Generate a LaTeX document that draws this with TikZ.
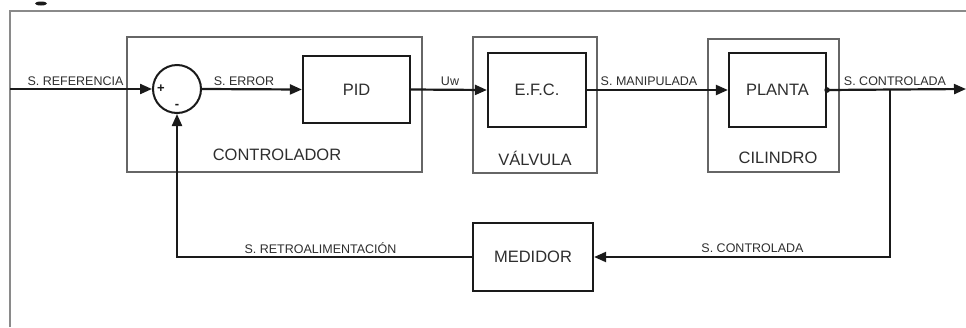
\documentclass[tikz,border=0pt]{standalone}
\usepackage{fontspec}
\setmainfont{Liberation Sans}
\usetikzlibrary{arrows.meta}
\definecolor{txt}{HTML}{2E2E2E}
\definecolor{frm}{HTML}{8A8A8A}
\definecolor{grp}{HTML}{666666}
\definecolor{ln}{HTML}{1A1A1A}
\begin{document}
\begin{tikzpicture}[x=1pt,y=-1pt,
  blk/.style={draw=ln, line width=2.2pt, inner sep=0pt, text=txt, font=\fontsize{16.5}{18}\selectfont},
  grpbox/.style={draw=grp, line width=1.5pt, inner sep=0pt},
  biglbl/.style={text=txt, font=\fontsize{16.5}{18}\selectfont, inner sep=0pt},
  sig/.style={text=txt, font=\fontsize{12.5}{14}\selectfont, inner sep=0pt},
  sgn/.style={text=ln, font=\bfseries\fontsize{13}{14}\selectfont, inner sep=0pt},
  wire/.style={draw=ln, line width=2.2pt},
  arr/.style={wire, -{Triangle[length=12pt,width=10pt]}}]
\useasboundingbox (0,0) rectangle (966,327);
% outer frame
\draw[frm, line width=2pt] (10,327) -- (10,11) -- (966,11);
\fill[ln] (41,3.5) ellipse (6 and 2);
% group boxes
\node[grpbox, minimum width=295pt, minimum height=135pt] (ctrl) at (274.5,104.5) {};
\node[grpbox, minimum width=124pt, minimum height=136pt] (valv) at (535,105) {};
\node[grpbox, minimum width=131pt, minimum height=133pt] (cyl) at (773.5,105.5) {};
\node[biglbl] (lctrl) at (277,155) {CONTROLADOR};
\node[biglbl] (lvalv) at (535,158) {VÁLVULA};
\node[biglbl] (lcyl) at (778,158) {CILINDRO};
% blocks
\node[draw=ln, line width=2pt, circle, minimum size=48pt, inner sep=0pt] (sum) at (177,89) {};
\node[sgn] (plus) at (161,89) {+};
\node[sgn] (minus) at (177,106) {-};
\node[blk, minimum width=107pt, minimum height=67pt] (pid) at (356.5,89.5) {PID};
\node[blk, minimum width=98pt, minimum height=74pt] (efc) at (537,90) {E.F.C.};
\node[blk, minimum width=97pt, minimum height=74pt] (planta) at (777.5,90) {PLANTA};
\node[blk, minimum width=120pt, minimum height=68pt] (med) at (533,257) {MEDIDOR};
% coordinates
\coordinate (in) at (10,89);
\coordinate (out) at (966,89);
\coordinate (br) at (890,89);
\coordinate (brd) at (890,257);
\coordinate (fbc) at (177,257);
% connectors
\draw[arr] (in) -- (sum.west);
\draw[arr] (sum.east) -- (pid.west);
\draw[arr] (pid.east) -- (efc.west);
\draw[arr] (efc.east) -- (planta.west);
\draw[arr] (planta.east) -- (out);
\fill[ln] (planta.east) circle (2.8pt);
\draw[arr] (br) -- (brd) -- (med.east);
\draw[arr] (med.west) -- (fbc) -- (sum.south);
% signal labels
\node[sig] (lref) at (75.5,81) {S. REFERENCIA};
\node[sig] (lerr) at (244,81) {S. ERROR};
\node[sig] (luw) at (450,81) {Uw};
\node[sig] (lman) at (649,81) {S. MANIPULADA};
\node[sig] (lcon) at (895,81) {S. CONTROLADA};
\node[sig] (lcon2) at (752.5,248) {S. CONTROLADA};
\node[sig] (lret) at (320.5,248) {S. RETROALIMENTACIÓN};
\end{tikzpicture}
\end{document}
